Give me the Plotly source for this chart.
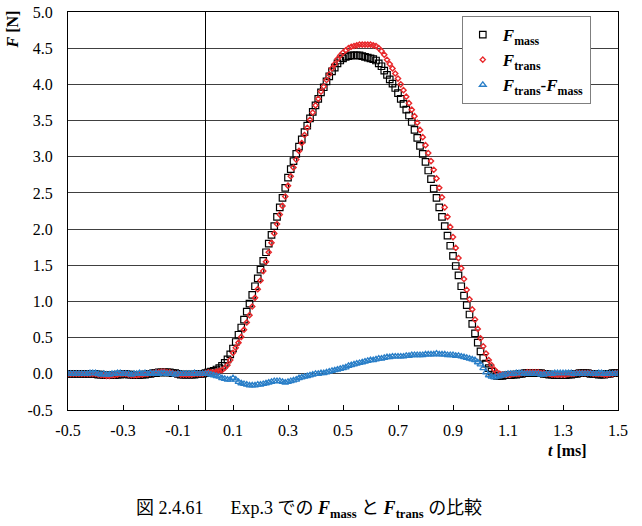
import numpy as np
import plotly.graph_objects as go

# time axis [ms], sampled every 0.01 ms
t = np.round(np.arange(-50, 151) / 100.0, 2)

# F_mass [N]
f_mass = [
    0.00, 0.00, 0.00, 0.00, 0.00, 0.00, 0.00, 0.00, 0.00, 0.00,
    0.00, -0.01, -0.01, -0.02, -0.02, -0.02, -0.02, -0.02, -0.01, -0.01,
    0.00, 0.00, -0.01, -0.01, -0.02, -0.02, -0.02, -0.01, -0.01, 0.00,
    0.00, 0.01, 0.01, 0.02, 0.02, 0.02, 0.02, 0.02, 0.01, 0.01,
    0.00, -0.01, -0.01, -0.01, -0.01, -0.01, -0.01, 0.00, 0.00, 0.00,
    0.01, 0.02, 0.03, 0.04, 0.06, 0.08, 0.11, 0.15, 0.20, 0.27,
    0.35, 0.44, 0.54, 0.64, 0.75, 0.86, 0.97, 1.09, 1.21, 1.32,
    1.44, 1.56, 1.68, 1.80, 1.92, 2.04, 2.17, 2.30, 2.43, 2.57,
    2.71, 2.83, 2.94, 3.04, 3.14, 3.24, 3.34, 3.43, 3.53, 3.62,
    3.71, 3.80, 3.89, 3.96, 4.04, 4.11, 4.18, 4.23, 4.29, 4.33,
    4.36, 4.38, 4.39, 4.40, 4.40, 4.40, 4.40, 4.39, 4.38, 4.37,
    4.36, 4.35, 4.33, 4.29, 4.25, 4.19, 4.13, 4.07, 4.01, 3.95,
    3.88, 3.80, 3.73, 3.65, 3.57, 3.48, 3.37, 3.26, 3.15, 3.04,
    2.93, 2.81, 2.69, 2.56, 2.43, 2.30, 2.17, 2.04, 1.91, 1.77,
    1.63, 1.49, 1.36, 1.21, 1.08, 0.95, 0.82, 0.69, 0.56, 0.43,
    0.31, 0.22, 0.14, 0.08, 0.03, -0.02, -0.03, -0.03, -0.03, -0.02,
    -0.02, -0.02, -0.01, -0.01, 0.00, 0.00, 0.01, 0.01, 0.01, 0.01,
    0.01, 0.01, 0.01, 0.00, 0.00, -0.01, -0.01, -0.02, -0.02, -0.02,
    -0.02, -0.02, -0.01, -0.01, 0.00, 0.00, 0.01, 0.01, 0.01, 0.01,
    0.00, 0.00, 0.00, -0.01, -0.01, -0.01, 0.00, 0.00, 0.01, 0.01,
    0.01,
]

# F_trans [N]
f_trans = [
    0.00, 0.00, 0.00, 0.00, 0.00, 0.00, 0.00, 0.00, 0.00, 0.00,
    0.00, -0.01, -0.02, -0.02, -0.03, -0.03, -0.02, -0.02, -0.01, 0.00,
    0.00, 0.00, -0.01, -0.02, -0.02, -0.02, -0.01, -0.01, 0.00, 0.00,
    0.01, 0.01, 0.02, 0.02, 0.03, 0.03, 0.02, 0.02, 0.01, 0.00,
    0.00, -0.01, -0.01, -0.01, -0.01, -0.01, 0.00, 0.00, 0.00, 0.00,
    0.01, 0.02, 0.02, 0.02, 0.03, 0.04, 0.05, 0.08, 0.12, 0.19,
    0.29, 0.36, 0.43, 0.51, 0.61, 0.71, 0.81, 0.93, 1.05, 1.17,
    1.29, 1.42, 1.55, 1.68, 1.81, 1.94, 2.07, 2.20, 2.32, 2.45,
    2.60, 2.73, 2.85, 2.96, 3.08, 3.19, 3.30, 3.40, 3.51, 3.61,
    3.71, 3.80, 3.90, 3.97, 4.06, 4.14, 4.22, 4.28, 4.35, 4.40,
    4.44, 4.47, 4.50, 4.52, 4.53, 4.54, 4.55, 4.55, 4.55, 4.55,
    4.55, 4.54, 4.53, 4.50, 4.46, 4.41, 4.34, 4.28, 4.22, 4.15,
    4.08, 4.00, 3.92, 3.83, 3.74, 3.65, 3.56, 3.47, 3.37, 3.27,
    3.16, 3.05, 2.94, 2.82, 2.70, 2.57, 2.44, 2.30, 2.17, 2.03,
    1.89, 1.74, 1.60, 1.46, 1.31, 1.16, 1.03, 0.89, 0.75, 0.62,
    0.49, 0.38, 0.28, 0.19, 0.12, 0.06, 0.02, 0.00, -0.01, -0.01,
    -0.01, -0.01, 0.00, 0.00, 0.00, 0.01, 0.01, 0.02, 0.02, 0.02,
    0.02, 0.02, 0.01, 0.01, 0.00, 0.00, -0.01, -0.01, -0.01, -0.01,
    -0.01, -0.01, 0.00, 0.00, 0.00, 0.01, 0.01, 0.01, 0.01, 0.01,
    0.01, 0.00, 0.00, 0.00, 0.00, -0.01, -0.01, 0.00, 0.00, 0.01,
    0.01,
]

# F_trans - F_mass [N]
f_diff = [
    0.00, 0.00, 0.00, 0.00, 0.00, 0.00, 0.00, 0.00, 0.01, 0.01,
    0.01, 0.00, -0.01, 0.00, -0.01, -0.01, 0.00, 0.00, 0.01, 0.01,
    0.00, 0.00, 0.00, -0.01, 0.00, 0.00, 0.01, 0.00, 0.01, 0.00,
    0.01, 0.00, 0.01, 0.00, 0.01, 0.01, 0.00, 0.00, 0.00, -0.01,
    0.00, 0.00, 0.00, 0.00, 0.00, 0.00, 0.01, 0.00, 0.00, 0.00,
    0.00, 0.00, -0.01, -0.02, -0.03, -0.04, -0.06, -0.07, -0.08, -0.08,
    -0.06, -0.08, -0.11, -0.13, -0.14, -0.15, -0.16, -0.16, -0.16, -0.15,
    -0.15, -0.14, -0.13, -0.12, -0.11, -0.10, -0.10, -0.10, -0.11, -0.12,
    -0.11, -0.10, -0.09, -0.08, -0.06, -0.05, -0.04, -0.03, -0.02, -0.01,
    0.00, 0.00, 0.01, 0.01, 0.02, 0.03, 0.04, 0.05, 0.06, 0.07,
    0.08, 0.09, 0.11, 0.12, 0.13, 0.14, 0.15, 0.16, 0.17, 0.18,
    0.19, 0.19, 0.20, 0.21, 0.21, 0.22, 0.23, 0.23, 0.24, 0.24,
    0.24, 0.24, 0.24, 0.25, 0.25, 0.26, 0.26, 0.26, 0.26, 0.26,
    0.27, 0.27, 0.27, 0.27, 0.28, 0.27, 0.27, 0.27, 0.26, 0.26,
    0.26, 0.25, 0.25, 0.24, 0.23, 0.22, 0.21, 0.20, 0.19, 0.16,
    0.13, 0.08, 0.02, -0.02, -0.04, -0.05, -0.04, -0.03, -0.02, -0.01,
    0.00, 0.00, 0.00, 0.01, 0.01, 0.01, 0.00, 0.00, 0.00, 0.00,
    0.00, 0.00, -0.01, -0.01, 0.00, 0.00, 0.00, 0.01, 0.01, 0.01,
    0.01, 0.01, 0.01, 0.01, 0.00, 0.00, 0.00, 0.00, 0.00, 0.00,
    0.00, 0.00, 0.00, 0.01, 0.01, 0.00, 0.00, 0.00, 0.00, 0.00,
    0.00,
]

x_ticks = [-0.5, -0.3, -0.1, 0.1, 0.3, 0.5, 0.7, 0.9, 1.1, 1.3, 1.5]
y_ticks = [-0.5, 0.0, 0.5, 1.0, 1.5, 2.0, 2.5, 3.0, 3.5, 4.0, 4.5, 5.0]

SERIF = "Liberation Serif"
CJK = "Liberation Serif, Noto Sans CJK JP"
BLUE = "#2A7FC8"

fig = go.Figure()
fig.add_trace(go.Scatter(
    x=t, y=f_mass, mode="markers", name="<b><i>F</i><sub>mass</sub></b>",
    legendgroup="a",
    marker=dict(symbol="square-open", size=6.5, color="black", line=dict(width=1.2, color="black")),
))
fig.add_trace(go.Scatter(
    x=t, y=f_trans, mode="markers", name="<b><i>F</i><sub>trans</sub></b>",
    legendgroup="b",
    marker=dict(symbol="diamond-open", size=4, color="#E8282B", line=dict(width=1.4, color="#E8282B")),
))
fig.add_trace(go.Scatter(
    x=t, y=f_diff, mode="markers",
    name="<b><i>F</i><sub>trans</sub>-<i>F</i><sub>mass</sub></b>",
    legendgroup="c",
    marker=dict(symbol="triangle-up-open", size=6, color=BLUE, line=dict(width=1.3, color=BLUE)),
))

fig.update_layout(
    width=642, height=526,
    margin=dict(l=68, r=24, t=4, b=116),
    paper_bgcolor="white", plot_bgcolor="white",
    font=dict(family=SERIF, size=16, color="black"),
    showlegend=True,
    legend=dict(
        x=0.716, y=0.99, xanchor="left", yanchor="top",
        bgcolor="white", bordercolor="#7f7f7f", borderwidth=1,
        font=dict(family=SERIF, size=17, color="black"),
        traceorder="grouped", tracegroupgap=0,
        itemwidth=30,
    ),
    xaxis=dict(
        range=[-0.5, 1.5], tickvals=x_ticks, ticktext=[f"{v:.1f}" for v in x_ticks],
        ticks="inside", ticklen=5, tickcolor="black",
        showgrid=False, showline=True, linecolor="black", linewidth=1, mirror=True,
        zeroline=True, zerolinecolor="black", zerolinewidth=1,
        tickfont=dict(family=SERIF, size=16), ticklabelstandoff=6,
    ),
    yaxis=dict(
        range=[-0.5, 5.0], tickvals=y_ticks, ticktext=[f"{v:.1f}" for v in y_ticks],
        ticks="", showgrid=True, gridcolor="#404040", gridwidth=1,
        showline=True, linecolor="black", linewidth=1, mirror=True,
        zeroline=True, zerolinecolor="#404040", zerolinewidth=1,
        tickfont=dict(family=SERIF, size=16), ticklabelstandoff=11,
        ticklabeloverflow="allow",
    ),
)

fig.add_annotation(
    xref="paper", yref="paper", x=-0.1, y=0.956, textangle=-90,
    text="<b><i>F</i> [N]</b>", showarrow=False, xanchor="center", yanchor="middle",
    font=dict(family=SERIF, size=16),
)
fig.add_annotation(
    xref="paper", yref="paper", x=0.909, y=-0.103,
    text="<b><i>t</i> [ms]</b>", showarrow=False, xanchor="center", yanchor="middle",
    font=dict(family=SERIF, size=16),
)
fig.add_annotation(
    xref="paper", yref="paper", x=0.438, y=-0.25,
    text="図 2.4.61\u00a0\u00a0\u00a0\u00a0\u00a0\u00a0Exp.3 での <b><i>F</i><sub>mass</sub></b> と <b><i>F</i><sub>trans</sub></b> の比較",
    showarrow=False, xanchor="center", yanchor="middle",
    font=dict(family=CJK, size=18),
)

fig.write_html("out.html")
